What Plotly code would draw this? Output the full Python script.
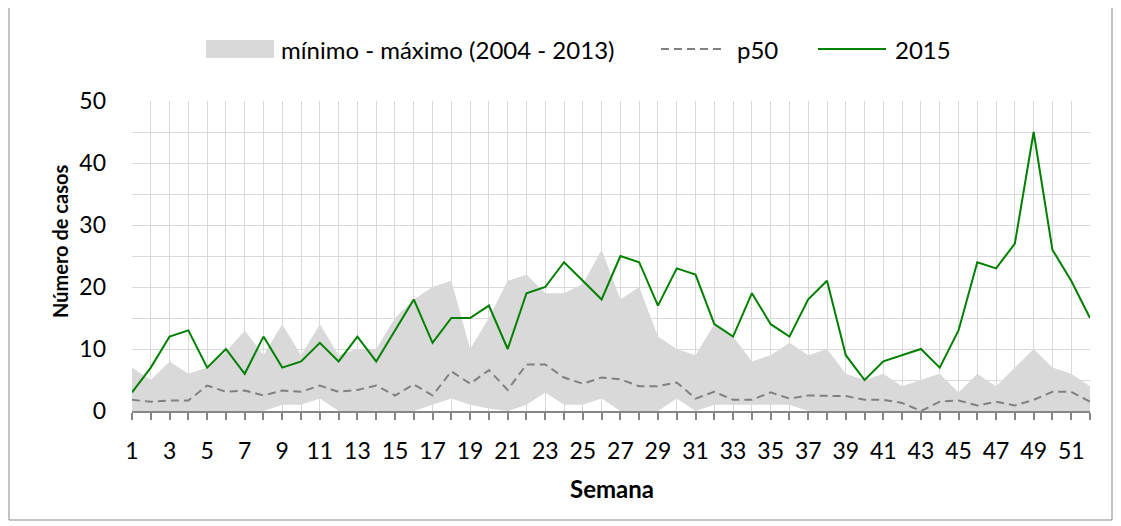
import plotly.graph_objects as go

weeks = list(range(1, 53))
tick_labels = [str(w) if w % 2 == 1 else "" for w in weeks]

min_vals = [0, 0, 0, 0, 0, 0, 0, 0, 1, 1, 2, 0, 0, 0, 0, 0, 1, 2, 1, 0.4,
            0, 1, 3, 1, 1, 2, 0, 0, 0, 2, 0, 1, 1, 1, 1, 1, 0, 0, 0, 0,
            0, 0, 0, 0, 0, 0, 0, 0, 0, 0, 0, 0]
max_vals = [7, 5, 8, 6, 7, 9.5, 13, 9, 14, 9, 14, 9, 10, 10, 15, 18, 20, 21, 10, 15,
            21, 22, 19, 19, 20.5, 26, 18, 20, 12, 10, 9, 14, 12, 8, 9, 11, 9, 10, 6, 5,
            6, 4, 5, 6, 3, 6, 4, 7, 10, 7, 6, 4]
p50_vals = [1.8, 1.5, 1.7, 1.7, 4.1, 3.1, 3.3, 2.5, 3.3, 3.1, 4.1, 3.1, 3.4, 4.1, 2.5, 4.3, 2.5, 6.4, 4.4, 6.6,
            3.4, 7.5, 7.5, 5.4, 4.4, 5.4, 5.1, 4.0, 4.0, 4.6, 2.0, 3.1, 1.8, 1.8, 3.0, 2.0, 2.5, 2.4, 2.4, 1.8,
            1.8, 1.3, 0, 1.5, 1.7, 0.9, 1.5, 0.9, 1.8, 3.1, 3.1, 1.5]
y2015 = [3, 7, 12, 13, 7, 10, 6, 12, 7, 8, 11, 8, 12, 8, 13, 18, 11, 15, 15, 17,
         10, 19, 20, 24, 21, 18, 25, 24, 17, 23, 22, 14, 12, 19, 14, 12, 18, 21, 9, 5,
         8, 9, 10, 7, 13, 24, 23, 27, 45, 26, 21, 15]

FONT = "Lato"
GREY_FILL = "#d9d9d9"
GREEN = "#008000"
DASH_GREY = "#808080"
TXT = "#000000"
DASH = "8px,5px"

fig = go.Figure()
fig.add_trace(go.Scatter(x=weeks, y=min_vals, mode="lines", line=dict(width=0),
                         showlegend=False, hoverinfo="skip"))
fig.add_trace(go.Scatter(x=weeks, y=max_vals, mode="lines", line=dict(width=0),
                         fill="tonexty", fillcolor=GREY_FILL,
                         name="mínimo - máximo (2004 - 2013)", showlegend=False))
fig.add_trace(go.Scatter(x=weeks, y=p50_vals, mode="lines",
                         line=dict(color=DASH_GREY, width=2, dash=DASH),
                         name="p50", showlegend=False))
fig.add_trace(go.Scatter(x=weeks, y=y2015, mode="lines",
                         line=dict(color=GREEN, width=2),
                         name="2015", showlegend=False))

# page body has an 8px margin, so the figure is 8px smaller than the window
OFF = 8
W, H = 1121 - OFF, 526 - OFF
L = 132 - OFF
R = W - (1090 - OFF)
T = 101 - OFF
B = H - (411 - OFF)
pw = W - L - R
ph = H - T - B


def px(xs):
    """screen x -> paper x"""
    return (xs - OFF - L) / pw


def py(ys):
    """screen y -> paper y"""
    return (H - B - (ys - OFF)) / ph


shapes = [
    dict(type="rect", xref="paper", yref="paper", x0=px(9), x1=px(1112), y0=py(520), y1=py(5),
         line=dict(color="#898989", width=1), fillcolor="rgba(0,0,0,0)", layer="below"),
    dict(type="rect", xref="paper", yref="paper", x0=px(206), x1=px(274), y0=py(58), y1=py(40),
         line=dict(width=0), fillcolor=GREY_FILL),
    dict(type="line", xref="paper", yref="paper", x0=px(661), x1=px(723), y0=py(49), y1=py(49),
         line=dict(color=DASH_GREY, width=2, dash=DASH)),
    dict(type="line", xref="paper", yref="paper", x0=px(818), x1=px(886), y0=py(49), y1=py(49),
         line=dict(color=GREEN, width=2)),
]


def ann(text, xs, ys, anchor="left", size=24, angle=0):
    return dict(text=text, xref="paper", yref="paper", x=px(xs), y=py(ys),
                xanchor=anchor, yanchor="middle", showarrow=False, textangle=angle,
                font=dict(family=FONT, size=size, color=TXT))


annotations = [
    ann("mínimo - máximo (2004 - 2013)", 279, 49),
    ann("p50", 735, 49),
    ann("2015", 893, 49),
    ann("<b>Semana</b>", 612, 488, anchor="center", size=24),
    ann("<b>Número de casos</b>", 60, 242, anchor="center", size=20, angle=-90),
]

fig.update_layout(
    width=W, height=H,
    margin=dict(l=L, r=R, t=T, b=B, pad=0),
    paper_bgcolor="white", plot_bgcolor="white",
    font=dict(family=FONT, size=24, color=TXT),
    showlegend=False,
    shapes=shapes,
    annotations=annotations,
    xaxis=dict(range=[1, 52], tickmode="array", tickvals=weeks, ticktext=tick_labels,
               showgrid=True, gridcolor=GREY_FILL, gridwidth=1,
               showline=True, linecolor="#868686", linewidth=1.5,
               ticks="outside", ticklen=7, tickcolor="#868686", tickwidth=1.5,
               ticklabelstandoff=12, zeroline=False,
               tickfont=dict(family=FONT, size=23, color=TXT)),
    yaxis=dict(range=[0, 50], tick0=0, dtick=10,
               showgrid=True, gridcolor=GREY_FILL, gridwidth=1,
               minor=dict(dtick=5, tick0=0, showgrid=True, gridcolor=GREY_FILL, gridwidth=1),
               showline=False, ticks="", zeroline=False, ticklabelstandoff=25,
               tickfont=dict(family=FONT, size=23, color=TXT)),
)

fig.write_html("out.html")
